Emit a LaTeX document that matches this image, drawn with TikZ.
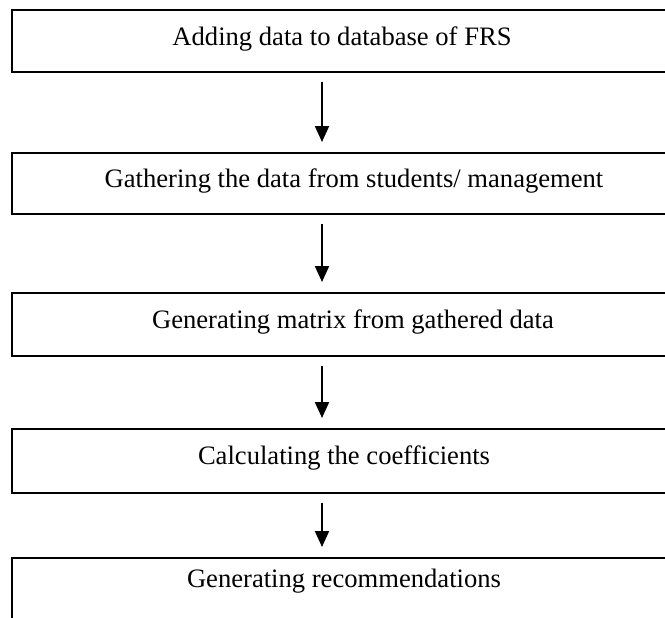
\documentclass[tikz,border=0pt]{standalone}
\usepackage{fontspec}
\setmainfont{Liberation Serif}
\usetikzlibrary{calc,arrows.meta}

\tikzset{
	stage/.style={draw, line width=1.1pt, rectangle, anchor=north west, inner sep=0pt, minimum width=335pt},
	caption/.style={anchor=base, inner sep=0pt, font=\fontsize{13.3}{16}\selectfont},
	flow/.style={-{Triangle[length=8pt,width=7pt]}, line width=1pt}
}

\begin{document}
\begin{tikzpicture}[x=0.5pt,y=-0.5pt]
\useasboundingbox (0,0) rectangle (665,617);
\clip (0,0) rectangle (665,617);
\node[stage, minimum height=31pt] (box1) at (11,9) {};
\node[stage, minimum height=30.5pt] (box2) at (11,152) {};
\node[stage, minimum height=31.5pt] (box3) at (11,292) {};
\node[stage, minimum height=32pt] (box4) at (11,428) {};
\node[stage, minimum height=32pt] (box5) at (11,557) {};
\node[caption] (txt1) at (342,45) {Adding data to database of FRS};
\node[caption] (txt2) at (354,187) {Gathering the data from students/ management};
\node[caption] (txt3) at (353,328) {Generating matrix from gathered data};
\node[caption] (txt4) at (344,464) {Calculating the coefficients};
\node[caption] (txt5) at (344,587) {Generating recommendations};
\foreach \a/\b in {1/2,2/3,3/4,4/5} {
	\draw[flow] ($ (box\a.south west) + (311,9) $) -- ($ (box\b.north west) + (311,-10) $);
}
\end{tikzpicture}
\end{document}
